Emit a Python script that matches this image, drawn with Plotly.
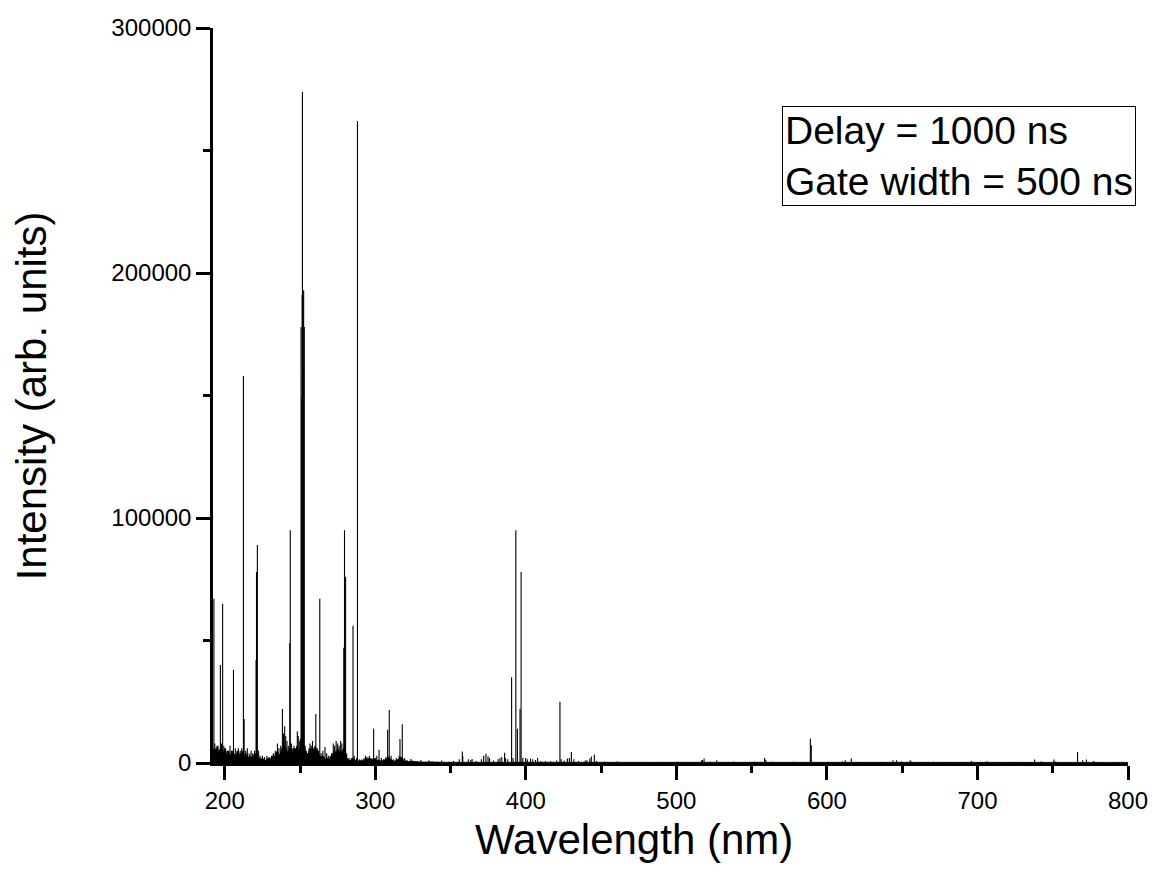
#LIBS emission spectrum, delay 1000 ns / gate 500 ns
#%%
import plotly.graph_objects as go

#%%
#DATA
#strong / visible emission lines: wavelength (nm) and peak intensity (arb. units)
line_wl = [192.8, 193.4, 194.2, 195.5, 196.3, 197.1, 197.8, 198.6, 199.4, 200.5,
           201.5, 202.6, 203.5, 204.4, 205.8, 207.0, 208.2, 209.0, 210.3, 211.3,
           212.4, 212.9, 213.9, 215.0, 216.2, 217.5, 218.6, 219.8, 220.8, 221.1,
           221.67, 222.5, 223.5, 225.0, 226.5, 228.0, 229.5, 231.0, 232.3, 233.6,
           235.0, 236.0, 237.2, 238.3, 239.0, 239.8, 240.5, 241.3, 242.2, 243.2,
           243.52, 244.3, 245.2, 246.0, 247.0, 248.2, 248.8, 249.5, 250.2, 250.69,
           251.1, 251.43, 251.61, 251.92, 252.1, 252.41, 252.85, 253.4, 254.2, 255.0,
           256.0, 256.6, 257.5, 258.3, 259.2, 260.5, 261.5, 262.3, 263.13, 264.0,
           265.2, 266.6, 267.7, 268.8, 270.0, 271.0, 272.1, 273.0, 274.0, 275.0,
           276.0, 277.0, 277.8, 279.08, 279.55, 280.27, 281.0, 282.5, 284.0, 285.21,
           286.0, 287.5, 288.16, 289.5, 291.0, 292.5, 293.5, 294.5, 296.0, 297.0,
           298.9, 300.3, 301.0, 302.5, 304.0, 305.5, 307.0, 308.2, 309.27, 310.5,
           312.0, 314.0, 315.9, 316.4, 317.93, 319.5, 321.0, 323.7, 325.5, 328.2,
           330.3, 335.5, 336.2, 338.0, 344.1, 349.0, 352.0, 355.8, 357.8, 358.1,
           361.8, 363.5, 364.3, 367.0, 370.5, 372.0, 373.5, 374.9, 375.9, 378.5,
           381.6, 382.8, 384.0, 385.9, 386.5, 388.0, 390.55, 391.5, 393.37, 394.4,
           396.15, 396.85, 398.0, 399.9, 401.0, 403.1, 404.6, 406.4, 407.8, 410.0,
           413.1, 416.5, 420.5, 422.67, 423.5, 425.4, 427.6, 428.9, 430.25, 431.9,
           435.0, 439.5, 440.5, 442.5, 443.5, 445.5, 447.0, 452.5, 456.0, 460.7,
           468.0, 472.0, 480.0, 487.0, 495.0, 500.6, 504.0, 510.0, 516.7, 517.3,
           518.4, 522.0, 526.8, 532.0, 538.0, 546.0, 552.0, 558.6, 559.4, 563.0,
           570.0, 578.0, 585.0, 589.0, 589.6, 595.0, 600.0, 605.0, 610.3, 612.2,
           616.2, 620.0, 630.0, 636.0, 643.9, 646.3, 649.5, 655.3, 656.3, 664.0,
           670.8, 680.0, 688.0, 696.0, 700.0, 706.2, 714.0, 720.0, 728.0, 738.0,
           742.4, 750.8, 752.0, 758.0, 766.49, 769.9, 772.4, 777.2, 780.0, 790.0,
           797.0]
line_int = [67000, 8000, 6000, 7000, 5000, 40000, 8000, 65000, 7000, 6000,
            5000, 5000, 7000, 5000, 38000, 6000, 5000, 6000, 5000, 6000,
            158000, 18000, 5000, 6000, 4000, 5000, 4000, 5000, 42000, 78000,
            89000, 5000, 3000, 3000, 2500, 3000, 2500, 3000, 4000, 5000,
            8000, 6000, 7000, 22000, 12000, 15000, 11000, 9000, 7000, 49000,
            95000, 8000, 6000, 7000, 6000, 13000, 11000, 9000, 10000, 178000,
            150000, 191000, 274000, 190000, 160000, 193000, 178000, 7000, 5000, 4000,
            6000, 8000, 7000, 9000, 6000, 20000, 6000, 5000, 67000, 4000,
            5000, 6500, 4000, 3000, 3000, 4000, 8000, 7000, 9000, 8000,
            7000, 9000, 8000, 47000, 95000, 76000, 4000, 2000, 2000, 56000,
            3000, 2000, 262000, 1500, 1500, 2000, 3000, 2500, 3000, 2000,
            14000, 2000, 3000, 5400, 2000, 1500, 2500, 13600, 21600, 3000,
            1500, 2000, 3000, 9800, 15800, 2000, 1200, 1600, 800, 800,
            1200, 1000, 800, 600, 1000, 500, 800, 1500, 4700, 3000,
            1500, 1200, 1600, 800, 1500, 3000, 3800, 2800, 2000, 1000,
            1500, 2000, 2500, 4200, 2000, 1500, 35000, 2000, 95000, 14000,
            22000, 78000, 2000, 2000, 1500, 1800, 1500, 1200, 2000, 800,
            800, 600, 1000, 25000, 1500, 1000, 1800, 2000, 4500, 1500,
            800, 1000, 1100, 1800, 2700, 3500, 800, 500, 400, 600,
            400, 400, 400, 400, 400, 500, 400, 400, 1000, 1200,
            1800, 500, 1100, 400, 500, 400, 500, 2000, 1300, 500,
            400, 500, 400, 10000, 7200, 400, 400, 400, 600, 1100,
            1800, 400, 400, 400, 1100, 1100, 600, 1100, 600, 400,
            500, 400, 300, 800, 400, 700, 400, 300, 300, 1400,
            600, 1400, 600, 400, 4500, 1100, 1400, 800, 300, 300,
            300]

#continuum / noise floor under the lines
bg_wl = [192.2, 193, 194, 195, 196, 197, 198, 199, 200, 201, 202, 203, 204, 205, 206,
         207, 208, 209, 210, 211, 212, 213, 214, 215, 216, 217, 218, 219, 220, 221,
         222, 223, 224, 225, 226, 227, 228, 229, 230, 231, 232, 233, 234, 235, 236,
         237, 238, 239, 240, 241, 242, 243, 244, 245, 246, 247, 248, 249, 250, 251,
         252, 253, 254, 255, 256, 257, 258, 259, 260, 261, 262, 263, 264, 265, 266,
         267, 268, 269, 270, 271, 272, 273, 274, 275, 276, 277, 278, 279, 280, 281,
         282, 283, 284, 285, 286, 287, 288, 289, 290, 291, 292, 293, 294, 295, 296,
         297, 298, 299, 300, 301, 302, 303, 304, 305, 306, 307, 308, 309, 310, 311,
         312, 313, 314, 315, 316, 317, 318, 319, 320, 322, 324, 326, 328, 330, 335,
         340, 345, 350, 360, 370, 380, 390, 400, 420, 440, 460, 500, 550, 600, 650,
         700, 750, 800]
bg_int = [4000, 6000, 5000, 7000, 4000, 6000, 5000, 4000, 6000, 3000, 5000, 4000, 3000, 5000, 4000,
          3000, 4000, 5000, 3000, 4000, 5000, 3000, 4000, 3000, 2000, 3000, 2000, 3000, 4000, 3000,
          2000, 2000, 1500, 2000, 1500, 1000, 1500, 2000, 1500, 2000, 3000, 2500, 4000, 5000, 3000,
          4000, 6000, 5000, 7000, 5000, 4000, 6000, 5000, 4000, 6000, 5000, 7000, 5000, 6000, 8000,
          7000, 6000, 4000, 3000, 5000, 6000, 4000, 5000, 7000, 5000, 4000, 3000, 2500, 3000, 2000,
          1500, 2000, 1500, 2000, 3000, 4000, 5000, 4000, 6000, 5000, 4000, 5000, 6000, 4000, 2000,
          1500, 1000, 1000, 2000, 1500, 1000, 1000, 800, 1000, 800, 1000, 1500, 2000, 1500, 2000,
          1500, 1500, 2000, 1500, 1000, 1200, 1000, 800, 1000, 1200, 1500, 2000, 2500, 1500, 1000,
          800, 800, 1000, 1500, 2000, 2500, 2000, 1000, 800, 600, 800, 500, 500, 400, 500,
          400, 300, 300, 300, 300, 300, 300, 300, 300, 300, 300, 250, 250, 250, 250,
          250, 250, 250]

x_ticks = [200, 300, 400, 500, 600, 700, 800]
y_ticks = [0, 100000, 200000, 300000]

#%%
#build sticks for each emission line (separated by None so they are not joined)
stick_x = []
stick_y = []
for w, v in zip(line_wl, line_int):
    stick_x += [w, w, None]
    stick_y += [0, v, None]

fig = go.Figure()
fig.add_trace(go.Scatter(x=bg_wl, y=bg_int, mode='lines', fill='tozeroy',
                         fillcolor='black', line=dict(color='black', width=0.8),
                         showlegend=False, hoverinfo='skip'))
fig.add_trace(go.Scatter(x=stick_x, y=stick_y, mode='lines',
                         line=dict(color='black', width=1.1),
                         showlegend=False, connectgaps=False))

font = 'Liberation Sans, Arial, sans-serif'
axis_style = dict(showline=True, linecolor='black', linewidth=2.5, mirror=False,
                  ticks='outside', ticklen=14, tickwidth=2.5, tickcolor='black',
                  showgrid=False, zeroline=False, automargin=False,
                  tickfont=dict(family=font, size=24, color='black'))

fig.update_xaxes(range=[192.2, 800], tickvals=x_ticks,
                 minor=dict(ticks='outside', ticklen=7, tickwidth=2.5, tickcolor='black', dtick=50, tick0=200, showgrid=False),
                 **axis_style)
fig.update_yaxes(range=[0, 300000], tickvals=y_ticks, tickformat='d',
                 minor=dict(ticks='outside', ticklen=7, tickwidth=2.5, tickcolor='black', dtick=50000, tick0=0, showgrid=False),
                 **axis_style)

#axis titles and the acquisition settings box
fig.add_annotation(text='Wavelength (nm)', xref='paper', yref='paper', x=0.46, y=-0.104,
                   showarrow=False, xanchor='center', yanchor='middle',
                   font=dict(family=font, size=42, color='black'))
fig.add_annotation(text='Intensity (arb. units)', xref='paper', yref='paper', x=-0.198, y=0.5,
                   showarrow=False, textangle=-90, xanchor='center', yanchor='middle',
                   font=dict(family=font, size=42, color='black'))
fig.add_annotation(text='Delay = 1000 ns<br>Gate width = 500 ns', xref='paper', yref='paper',
                   x=0.622, y=0.894, xanchor='left', yanchor='top', align='left', showarrow=False,
                   bordercolor='black', borderwidth=1, borderpad=2, bgcolor='white',
                   font=dict(family=font, size=39, color='black'))

#page body has an 8px margin, so the figure is a bit smaller than the window
fig.update_layout(width=1148, height=874, margin=dict(l=205, r=28, t=20, b=119),
                  plot_bgcolor='white', paper_bgcolor='white')

fig.write_html("out.html")
